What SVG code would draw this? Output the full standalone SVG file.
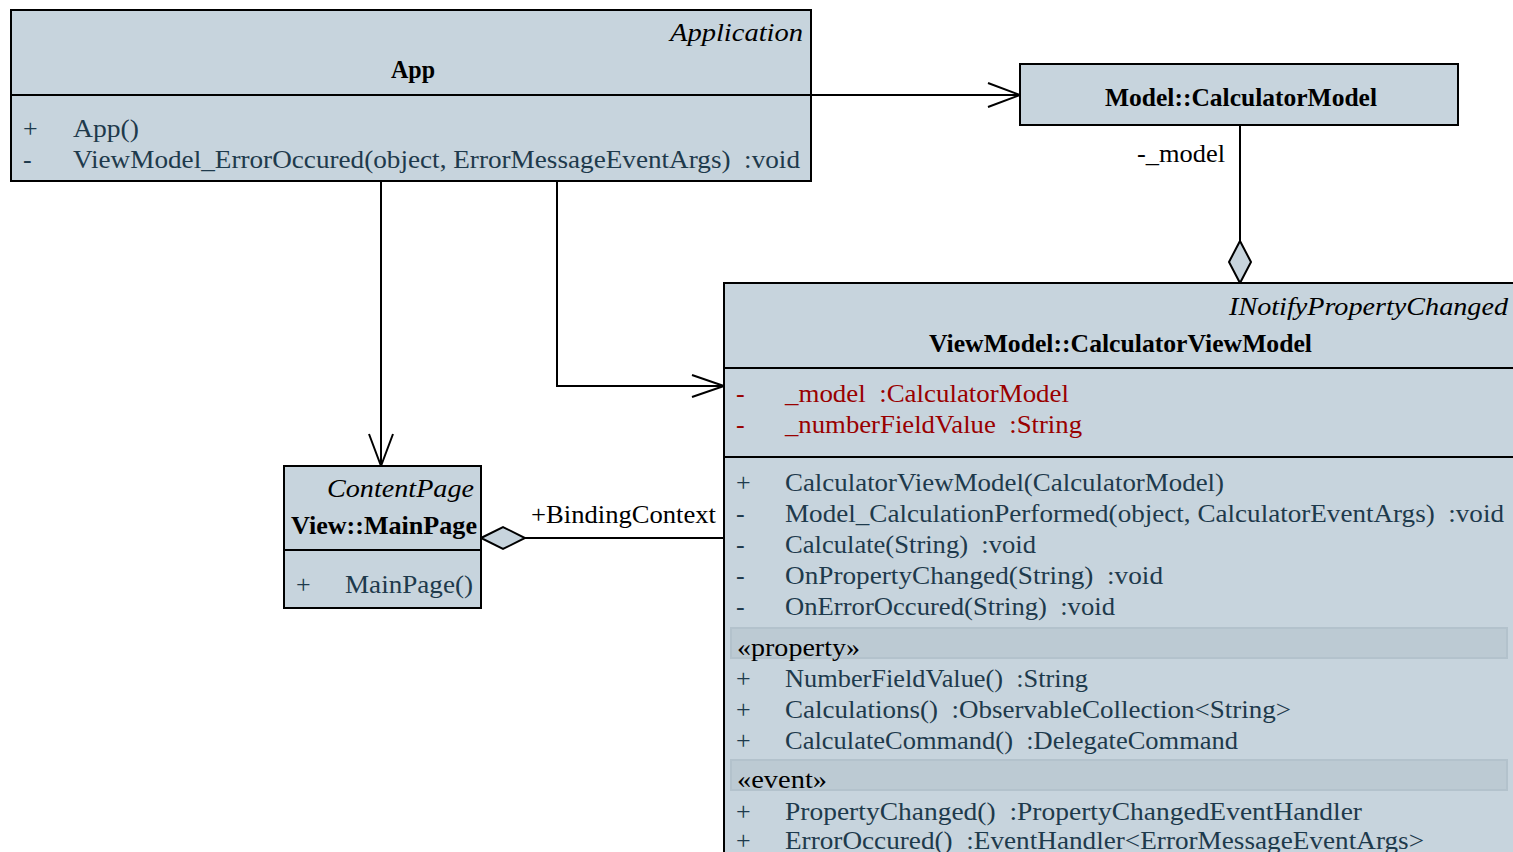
<svg xmlns="http://www.w3.org/2000/svg" width="1513" height="852" viewBox="0 0 1513 852">
<style>
.box{fill:#c7d4dd;stroke:#000;stroke-width:2}
.div{stroke:#000;stroke-width:2}
.band{fill:#bccad3;stroke:#b3c2cc;stroke-width:2}
text{font-family:"Liberation Serif","Times New Roman",serif;font-size:26px;white-space:pre}
.it{font-style:italic;fill:#000}
.nm{font-weight:bold;fill:#000}
.m{fill:#1e3a4c}
.a{fill:#990000}
.st{fill:#000}
.lbl{fill:#000}
.ln{fill:none;stroke:#000;stroke-width:2}
.dia{fill:#c7d4dd;stroke:#000;stroke-width:2}
</style>
<rect width="1513" height="852" fill="#fff"/>
<g id="connectors">
<path class="ln" d="M811,95 H1020"/>
<path class="ln" d="M988,83 L1020,95 L988,107"/>
<path class="ln" d="M381,181 V466"/>
<path class="ln" d="M369,434 L381,466 L393,434"/>
<path class="ln" d="M557,181 V386 H724"/>
<path class="ln" d="M692,375 L724,386 L692,397"/>
<path class="ln" d="M1240,125 V241"/>
<path class="dia" d="M1240,241 L1251,262 L1240,283 L1229,262 Z"/>
<text class="lbl" x="1137" y="162" textLength="88" lengthAdjust="spacingAndGlyphs">-_model</text>
<path class="ln" d="M724,538 H525"/>
<path class="dia" d="M481,538 L503,527 L525,538 L503,549 Z"/>
<text class="lbl" x="531" y="523" textLength="185" lengthAdjust="spacingAndGlyphs">+BindingContext</text>
</g>
<g id="App">
<rect class="box" x="11" y="10" width="800" height="171"/>
<line class="div" x1="11" y1="95" x2="811" y2="95"/>
<text class="it" x="670" y="41" textLength="133" lengthAdjust="spacingAndGlyphs">Application</text>
<text class="nm" x="391" y="78" textLength="44" lengthAdjust="spacingAndGlyphs">App</text>
<text class="m" x="23" y="137">+</text><text class="m" x="73" y="137" textLength="66" lengthAdjust="spacingAndGlyphs">App()</text>
<text class="m" x="23" y="168">-</text><text class="m" x="73" y="168" textLength="727" lengthAdjust="spacingAndGlyphs">ViewModel_ErrorOccured(object, ErrorMessageEventArgs)  :void</text>
</g>
<g id="CalculatorModel">
<rect class="box" x="1020" y="64" width="438" height="61"/>
<text class="nm" x="1105" y="106" textLength="272" lengthAdjust="spacingAndGlyphs">Model::CalculatorModel</text>
</g>
<g id="MainPage">
<rect class="box" x="284" y="466" width="197" height="142"/>
<line class="div" x1="284" y1="550" x2="481" y2="550"/>
<text class="it" x="327" y="497" textLength="147" lengthAdjust="spacingAndGlyphs">ContentPage</text>
<text class="nm" x="291" y="534" textLength="186" lengthAdjust="spacingAndGlyphs">View::MainPage</text>
<text class="m" x="296" y="593">+</text><text class="m" x="345" y="593" textLength="128" lengthAdjust="spacingAndGlyphs">MainPage()</text>
</g>
<g id="CalculatorViewModel">
<rect class="box" x="724" y="283" width="800" height="580"/>
<line class="div" x1="724" y1="368" x2="1513" y2="368"/>
<line class="div" x1="724" y1="457" x2="1513" y2="457"/>
<text class="it" x="1229" y="315" textLength="279" lengthAdjust="spacingAndGlyphs">INotifyPropertyChanged</text>
<text class="nm" x="929" y="352" textLength="383" lengthAdjust="spacingAndGlyphs">ViewModel::CalculatorViewModel</text>
<text class="a" x="736" y="402">-</text><text class="a" x="785" y="402" textLength="284" lengthAdjust="spacingAndGlyphs">_model  :CalculatorModel</text>
<text class="a" x="736" y="433">-</text><text class="a" x="785" y="433" textLength="297" lengthAdjust="spacingAndGlyphs">_numberFieldValue  :String</text>
<text class="m" x="736" y="491">+</text><text class="m" x="785" y="491" textLength="439" lengthAdjust="spacingAndGlyphs">CalculatorViewModel(CalculatorModel)</text>
<text class="m" x="736" y="522">-</text><text class="m" x="785" y="522" textLength="719" lengthAdjust="spacingAndGlyphs">Model_CalculationPerformed(object, CalculatorEventArgs)  :void</text>
<text class="m" x="736" y="553">-</text><text class="m" x="785" y="553" textLength="251" lengthAdjust="spacingAndGlyphs">Calculate(String)  :void</text>
<text class="m" x="736" y="584">-</text><text class="m" x="785" y="584" textLength="378" lengthAdjust="spacingAndGlyphs">OnPropertyChanged(String)  :void</text>
<text class="m" x="736" y="615">-</text><text class="m" x="785" y="615" textLength="330" lengthAdjust="spacingAndGlyphs">OnErrorOccured(String)  :void</text>
<rect class="band" x="731" y="628" width="776" height="30"/>
<text class="st" x="737" y="656" textLength="123" lengthAdjust="spacingAndGlyphs">«property»</text>
<text class="m" x="736" y="687">+</text><text class="m" x="785" y="687" textLength="303" lengthAdjust="spacingAndGlyphs">NumberFieldValue()  :String</text>
<text class="m" x="736" y="718">+</text><text class="m" x="785" y="718" textLength="506" lengthAdjust="spacingAndGlyphs">Calculations()  :ObservableCollection&lt;String&gt;</text>
<text class="m" x="736" y="749">+</text><text class="m" x="785" y="749" textLength="453" lengthAdjust="spacingAndGlyphs">CalculateCommand()  :DelegateCommand</text>
<rect class="band" x="731" y="760" width="776" height="30"/>
<text class="st" x="737" y="788" textLength="90" lengthAdjust="spacingAndGlyphs">«event»</text>
<text class="m" x="736" y="820">+</text><text class="m" x="785" y="820" textLength="577" lengthAdjust="spacingAndGlyphs">PropertyChanged()  :PropertyChangedEventHandler</text>
<text class="m" x="736" y="849">+</text><text class="m" x="785" y="849" textLength="639" lengthAdjust="spacingAndGlyphs">ErrorOccured()  :EventHandler&lt;ErrorMessageEventArgs&gt;</text>
</g>
</svg>
